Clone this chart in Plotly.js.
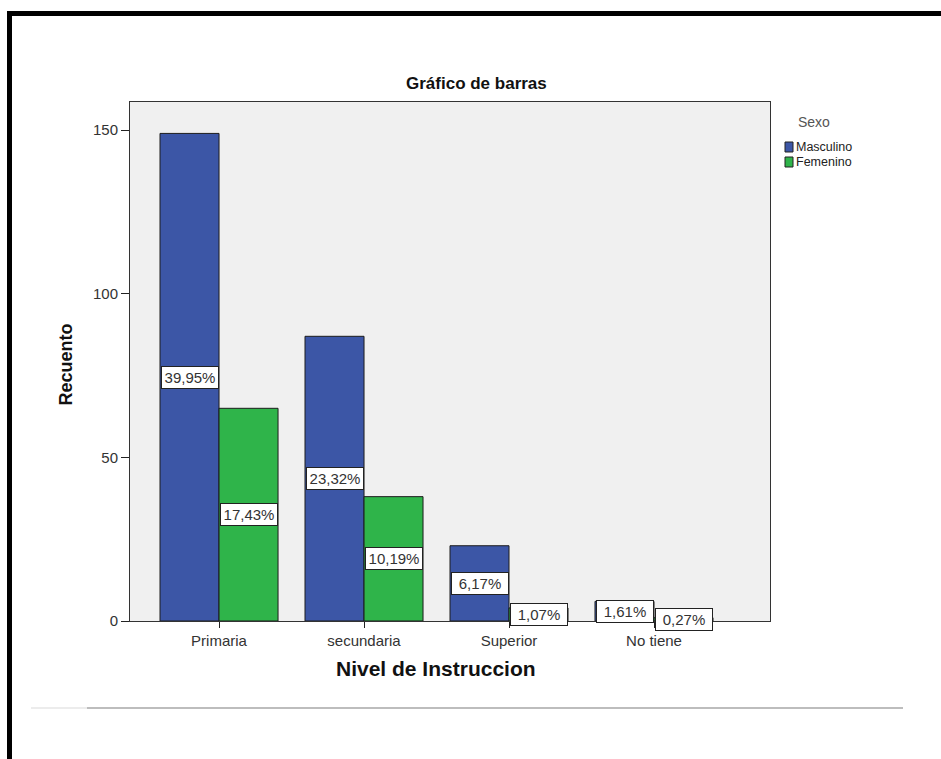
<!DOCTYPE html>
<html>
<head>
<meta charset="utf-8">
<script src="https://cdn.plot.ly/plotly-3.0.1.min.js"></script>
<style>
html,body{margin:0;padding:0;background:#fff;}
#chart{width:941px;height:759px;position:absolute;left:0;top:0;}
#frame{position:absolute;left:7px;top:11px;width:940px;height:760px;border-left:5px solid #000;border-top:5px solid #000;pointer-events:none;}
</style>
</head>
<body>
<div id="chart"></div>
<div id="frame"></div>
<script>
// ---- data ----
const categories = ["Primaria", "secundaria", "Superior", "No tiene"];
const masculino = [149, 87, 23, 6];
const femenino = [65, 38, 4, 1];
const masculinoPct = ["39,95%", "23,32%", "6,17%", "1,61%"];
const femeninoPct = ["17,43%", "10,19%", "1,07%", "0,27%"];
const seriesNames = ["Masculino", "Femenino"];
const yTicks = [0, 50, 100, 150];

// ---- style ----
const colors = ["#3c56a6", "#2fb44a"];
const FONT = "Arial, 'Liberation Sans', sans-serif";
const bargap = 0.186;
const idx = categories.map((c, i) => i);
const off = (1 - bargap) / 4;

const traces = [
  {type: "bar", name: seriesNames[0], x: idx, y: masculino,
   marker: {color: colors[0], line: {color: "#1c1c1c", width: 1}}, hoverinfo: "y"},
  {type: "bar", name: seriesNames[1], x: idx, y: femenino,
   marker: {color: colors[1], line: {color: "#1c1c1c", width: 1}}, hoverinfo: "y"}
];

const annotations = [];
function addLabels(vals, texts, sign) {
  vals.forEach((v, i) => {
    annotations.push({
      x: i + sign * off, y: v / 2, xref: "x", yref: "y",
      text: texts[i], showarrow: false,
      font: {family: FONT, size: 15, color: "#333"},
      bgcolor: "#fff", bordercolor: "#222", borderwidth: 1, borderpad: 1,
      width: 54, height: 19, align: "center", valign: "middle"
    });
  });
}
addLabels(masculino, masculinoPct, -1);
addLabels(femenino, femeninoPct, 1);

// titles
annotations.push({text: "<b>Gráfico de barras</b>", xref: "paper", yref: "paper",
  x: 0.542, y: 1.035, showarrow: false, xanchor: "center", yanchor: "middle",
  font: {family: FONT, size: 17, color: "#111"}});
annotations.push({text: "<b>Nivel de Instruccion</b>", xref: "paper", yref: "paper",
  x: 0.478, y: -0.0906, showarrow: false, xanchor: "center", yanchor: "middle",
  font: {family: FONT, size: 21, color: "#111"}});
annotations.push({text: "<b>Recuento</b>", xref: "paper", yref: "paper",
  x: -0.1, y: 0.494, showarrow: false, xanchor: "center", yanchor: "middle", textangle: -90,
  font: {family: FONT, size: 18, color: "#111"}});

// legend (custom, SPSS style)
const px2x = px => (px - 130) / 640;
const py2y = py => (621 - py) / 519;
annotations.push({text: "Sexo", xref: "paper", yref: "paper", x: px2x(796), y: py2y(122),
  showarrow: false, xanchor: "left", yanchor: "middle",
  font: {family: FONT, size: 14, color: "#555"}});
const shapes = [];
seriesNames.forEach((n, i) => {
  const cy = 147 + i * 15;
  shapes.push({type: "rect", xref: "paper", yref: "paper",
    x0: px2x(785), x1: px2x(793), y0: py2y(cy - 5), y1: py2y(cy + 5),
    fillcolor: colors[i], line: {color: "#222", width: 1}});
  annotations.push({text: n, xref: "paper", yref: "paper", x: px2x(794), y: py2y(cy),
    showarrow: false, xanchor: "left", yanchor: "middle",
    font: {family: FONT, size: 12.5, color: "#222"}});
});

// separator line below chart
shapes.push({type: "line", xref: "paper", yref: "paper",
  x0: px2x(87), x1: px2x(903), y0: py2y(708), y1: py2y(708),
  line: {color: "#bdbdbd", width: 2}});
shapes.push({type: "line", xref: "paper", yref: "paper",
  x0: px2x(31), x1: px2x(87), y0: py2y(708), y1: py2y(708),
  line: {color: "#ececec", width: 2}});

const layout = {
  width: 941, height: 759,
  margin: {l: 130, r: 171, t: 102, b: 138, pad: 0},
  paper_bgcolor: "#ffffff",
  plot_bgcolor: "#f0f0f0",
  barmode: "group", bargap: bargap, bargroupgap: 0,
  showlegend: false,
  xaxis: {
    range: [-0.614, 3.8], tickvals: idx, ticktext: categories,
    ticks: "outside", ticklen: 6, tickcolor: "#222", tickwidth: 1,
    showline: true, linecolor: "#333", linewidth: 1, mirror: true,
    showgrid: false, zeroline: false,
    tickfont: {family: FONT, size: 15, color: "#333"}
  },
  yaxis: {
    range: [0, 158.6], tickvals: yTicks,
    ticks: "outside", ticklen: 8, tickcolor: "#222", tickwidth: 1,
    showline: true, linecolor: "#333", linewidth: 1, mirror: true,
    showgrid: false, zeroline: false,
    tickfont: {family: FONT, size: 15, color: "#333"}
  },
  annotations: annotations,
  shapes: shapes
};

Plotly.newPlot("chart", traces, layout, {displayModeBar: false, staticPlot: true});
</script>
</body>
</html>
